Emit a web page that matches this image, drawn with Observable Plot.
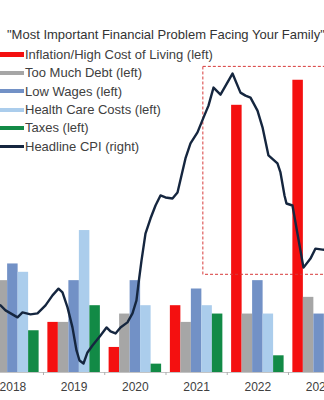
<!DOCTYPE html>
<html>
<head>
<meta charset="utf-8">
<script src="https://cdn.jsdelivr.net/npm/d3@7"></script>
<script src="https://cdn.jsdelivr.net/npm/@observablehq/plot@0.6"></script>
<style>
  html, body { margin: 0; padding: 0; background: #fff; overflow: hidden; }
  #wrap { position: relative; width: 324px; height: 400px; font-family: "Liberation Sans", Arial, sans-serif; }
  #title { position: absolute; left: 7px; top: 26.5px; font-size: 13px; line-height: 16px; color: #333; white-space: nowrap; }
  .lg-text { position: absolute; left: 25px; font-size: 13px; line-height: 18.4px; color: #404040; white-space: nowrap; }
  .lg-sw { position: absolute; left: 0; width: 24px; }
</style>
</head>
<body>
<div id="wrap">
  <div id="chart"></div>
  <div id="title">"Most Important Financial Problem Facing Your Family"</div>
  <div id="legend"></div>
</div>
<script>
// ---- data ----
const years = [2018, 2019, 2020, 2021, 2022, 2023];
const series = ["Inflation/High Cost of Living", "Too Much Debt", "Low Wages", "Health Care Costs", "Taxes"];
const seriesColors = ["#f41010", "#a6a6a6", "#7291c6", "#abcdec", "#128a46"];
// percent of respondents (left axis); null = outside the visible crop
const inflation   = [null, 6, 3, 8, 32, 35];
const tooMuchDebt = [11, 6, 7, 6, 7, 9];
const lowWages    = [13, 11, 11, 10, 11, 7];
const healthCare  = [12, 17, 8, 8, 7, null];
const taxes       = [5, 8, 1, 7, 2, null];

// Headline CPI, y/y % (right axis), as fractional year positions
const cpiDate = [2018.298, 2018.380, 2018.576, 2018.657, 2018.788, 2018.902, 2019.033, 2019.147, 2019.245, 2019.310,
  2019.392, 2019.473, 2019.539, 2019.588, 2019.653, 2019.718, 2019.800, 2019.931, 2020.029, 2020.094,
  2020.176, 2020.257, 2020.371, 2020.453, 2020.518, 2020.551, 2020.600, 2020.665, 2020.747, 2020.829,
  2020.910, 2020.992, 2021.106, 2021.188, 2021.253, 2021.318, 2021.400, 2021.514, 2021.612, 2021.694,
  2021.776, 2021.890, 2022.086, 2022.216, 2022.298, 2022.380, 2022.494, 2022.576, 2022.673, 2022.820,
  2022.869, 2022.935, 2022.967, 2023.065, 2023.245, 2023.359, 2023.441, 2023.555, 2023.686];
const cpiValue = [2.01, 1.86, 1.65, 1.80, 1.74, 1.77, 2.01, 2.31, 2.51, 2.40,
  1.95, 1.35, 0.66, 0.36, 0.27, 0.60, 0.81, 1.11, 1.35, 1.23,
  1.17, 1.35, 1.50, 1.77, 2.16, 2.66, 3.35, 4.16, 4.61, 5.00,
  5.30, 5.24, 5.21, 5.39, 5.90, 6.41, 6.86, 7.19, 7.63, 7.99,
  8.53, 8.32, 8.95, 8.38, 8.29, 8.23, 7.84, 7.34, 6.50, 6.26,
  5.99, 5.30, 5.06, 5.00, 3.14, 3.41, 3.71, 3.68, 3.65];

// highlighted period (dashed box), in time / left-axis units
const highlightStart = 2021.61, highlightEnd = 2024.2;
const highlightLow = 11.7, highlightHigh = 36.6;

const leftMax = 40;      // left axis 0–40 %
const rightMax = 10;     // right axis 0–10 %

// ---- build tables ----
const valueTable = [inflation, tooMuchDebt, lowWages, healthCare, taxes];
const bars = years.flatMap((yr, yi) => series.map((s, si) => ({year: yr, idx: si, series: s, value: valueTable[si][yi]})))
  .filter(d => d.value != null);
const cpi = cpiDate.map((t, i) => ({t, v: cpiValue[i]}));
const scaleRight = leftMax / rightMax;

const groupPad = 0.0715, barW = 0.1714;

const chart = Plot.plot({
  width: 324,
  height: 400,
  marginLeft: 0,
  marginRight: 0,
  marginTop: 38,
  marginBottom: 28,
  style: {fontFamily: '"Liberation Sans", Arial, sans-serif', fontSize: "12px", background: "white", overflow: "hidden"},
  x: {type: "linear", domain: [2018.298, 2023.588]},
  y: {domain: [0, leftMax], axis: null},
  color: {domain: series, range: seriesColors},
  marks: [
    Plot.rectY(bars, {
      x1: d => d.year + groupPad + d.idx * barW,
      x2: d => d.year + groupPad + (d.idx + 1) * barW,
      y: "value",
      fill: "series",
      clip: true
    }),
    Plot.rect([{x1: highlightStart, x2: highlightEnd, y1: highlightLow, y2: highlightHigh}], {
      x1: "x1", x2: "x2", y1: "y1", y2: "y2",
      fill: "none", stroke: "#d83a3a", strokeWidth: 1, strokeDasharray: "3,2", clip: true
    }),
    Plot.line(cpi, {x: "t", y: d => d.v * scaleRight, stroke: "#15263f", strokeWidth: 2.4, clip: true}),
    Plot.ruleY([0], {stroke: "#c4c4c4"}),
    Plot.axisX(years.slice(1), {tickSize: 3, tickFormat: () => "", stroke: "#b0b0b0"}),
    Plot.axisX(years.map(y => y + 0.5), {tickSize: 0, tickPadding: 10, tickFormat: d => String(Math.floor(d)), fill: "#404040", fontSize: 12})
  ]
});
document.getElementById("chart").appendChild(chart);

// ---- legend (overlaid in the top-left of the plot) ----
const legendItems = series.map((s, i) => ({label: s + " (left)", color: seriesColors[i], thick: i === 0 ? 5 : 4}))
  .concat([{label: "Headline CPI (right)", color: "#15263f", thick: 2.5}]);
const legend = document.getElementById("legend");
const firstBaseline = 59.5, rowStep = 18.4;
legendItems.forEach((d, i) => {
  const base = firstBaseline + i * rowStep;
  const sw = document.createElement("div");
  sw.className = "lg-sw";
  sw.style.top = (base - 5 - d.thick / 2) + "px";
  sw.style.height = d.thick + "px";
  sw.style.background = d.color;
  legend.appendChild(sw);
  const tx = document.createElement("div");
  tx.className = "lg-text";
  tx.style.top = (base - 13.7) + "px";
  tx.textContent = d.label;
  legend.appendChild(tx);
});
</script>
</body>
</html>
